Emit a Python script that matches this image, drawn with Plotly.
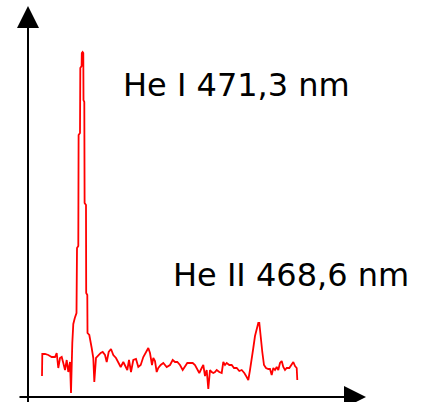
import plotly.graph_objects as go

# Spectrometer channel (arbitrary, increasing to the right) and intensity (counts)
channel = [0.0, 0.3, 3.0, 6.3, 9.7, 13.0, 14.7, 16.3, 18.0, 19.7, 21.3, 23.0, 24.7, 26.3, 28.0, 29.0,
           30.3, 31.3, 32.8, 34.5, 35.0, 36.3, 36.6, 38.0, 38.3, 39.6, 39.8, 40.6,
           41.3, 41.5, 42.3, 42.6, 44.0, 44.2, 45.3, 45.5, 47.3, 48.0, 49.7, 51.3, 52.3,
           54.0, 56.3, 58.7, 60.7, 63.0, 64.7, 66.7, 69.0, 71.3, 74.0, 76.3, 78.7, 81.3, 83.7,
           85.3, 87.0, 89.0, 91.3, 94.0, 96.3, 98.7, 101.3, 104.0, 106.3, 108.0, 110.0, 111.3,
           113.0, 114.7, 116.3, 118.7, 121.3, 124.7, 128.0, 130.7, 133.0, 135.3, 138.0, 140.7,
           143.0, 145.3, 148.0, 150.7, 153.0, 155.3, 157.3, 159.7, 161.3, 163.0, 164.7, 166.3,
           168.0, 169.7, 171.3, 173.0, 174.7, 177.3, 179.7, 181.3, 183.0, 184.7, 187.3, 189.7,
           192.0, 194.7, 197.3, 199.7, 202.3, 204.7, 206.3, 208.0, 209.7, 211.3, 213.0, 214.7,
           216.3, 217.3, 218.7, 220.3, 222.0, 224.0, 226.3, 228.0, 229.7, 231.3, 233.0, 234.7,
           236.3, 238.0, 239.7, 241.3, 243.0, 244.7, 247.3, 249.7, 251.3, 253.0, 254.7, 255.3]
intensity = [21, 43, 43, 42, 40, 40, 44, 29, 39, 40, 34, 27, 37, 25, 35, 4,
             54, 73, 79, 84, 149, 151, 262, 264, 329, 331, 344, 345,
             344, 297, 295, 194, 192, 104, 102, 64, 62, 57, 49, 39, 15,
             39, 42, 44, 45, 42, 35, 45, 48, 42, 39, 34, 30, 35, 30, 27,
             37, 25, 37, 38, 30, 32, 40, 45, 49, 44, 32, 39, 36, 25, 29, 32,
             34, 30, 32, 37, 35, 35, 32, 27, 30, 34, 34, 34, 32, 27,
             24, 29, 32, 21, 27, 8, 27, 25, 24, 25, 27, 25, 24, 35,
             32, 34, 32, 32, 29, 29, 26, 27, 24, 20, 17, 27, 37,
             49, 61, 69, 74, 74, 57, 45, 32, 29, 28, 28, 22, 29, 27,
             30, 27, 34, 36, 30, 27, 29, 29, 32, 35, 31, 29, 17]

labels = ["He I 471,3 nm", "He II 468,6 nm"]
label_channel = [79, 129]
label_intensity = [312, 122]

fig = go.Figure()
fig.add_trace(go.Scatter(x=channel, y=intensity, mode="lines",
                         line=dict(color="#FF0000", width=1.8), hoverinfo="skip"))

# Axis arrows
fig.add_annotation(x=-14, y=391, ax=-14, ay=-8, xref="x", yref="y", axref="x", ayref="y",
                   text="", showarrow=True, arrowhead=2, arrowsize=2.2, arrowwidth=2,
                   arrowcolor="black")
fig.add_annotation(x=324, y=0, ax=-24, ay=0, xref="x", yref="y", axref="x", ayref="y",
                   text="", showarrow=True, arrowhead=2, arrowsize=2.2, arrowwidth=2,
                   arrowcolor="black")

for t, cx, cy in zip(labels, label_channel, label_intensity):
    fig.add_annotation(x=cx, y=cy, xref="x", yref="y", text=t, showarrow=False,
                       xanchor="left", yanchor="middle",
                       font=dict(family="DejaVu Sans", size=32, color="black"))

fig.update_layout(width=426, height=402, autosize=False,
                  margin=dict(l=0, r=0, t=0, b=0),
                  paper_bgcolor="white", plot_bgcolor="white", showlegend=False,
                  xaxis=dict(visible=False, range=[-42, 384], fixedrange=True),
                  yaxis=dict(visible=False, range=[-5, 397], fixedrange=True))

fig.write_html("out.html", config={"displayModeBar": False},
               post_script="document.body.style.margin='0';document.body.style.overflow='hidden';")
